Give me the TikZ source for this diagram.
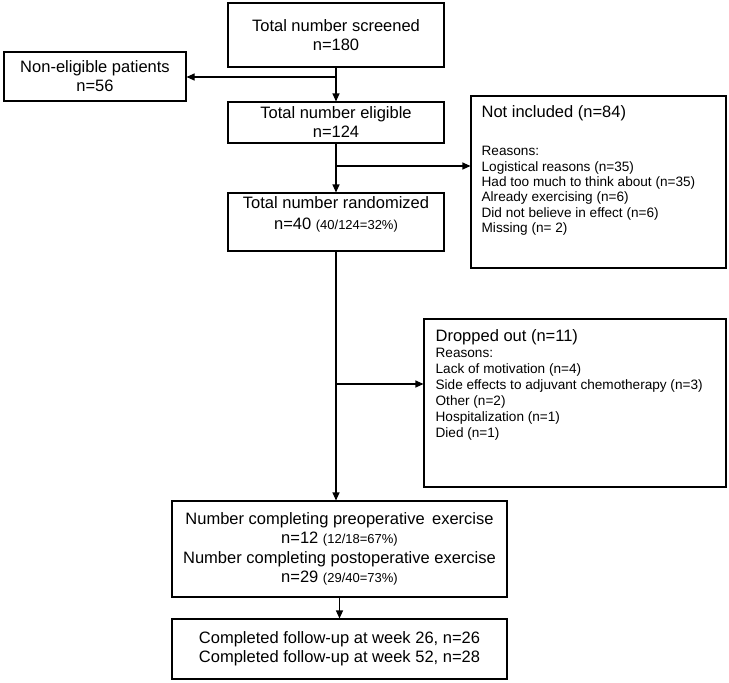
\documentclass[tikz,border=0pt]{standalone}
\usepackage{fontspec}
\setmainfont{Liberation Sans}
\usetikzlibrary{arrows.meta}

\newcommand{\mainsize}{\fontsize{16.5}{19}\selectfont}
\newcommand{\listsize}{\fontsize{13.6}{15.4}\selectfont}
\newcommand{\dropsize}{\fontsize{13.6}{16}\selectfont}
\newcommand{\pctsize}{\fontsize{13}{15}\selectfont}

\begin{document}
\begin{tikzpicture}[x=1pt, y=-1pt,
    box/.style={draw, line width=1.1pt, inner sep=0pt, align=center, font=\mainsize},
    txt/.style={inner sep=0pt},
    flow/.style={line width=1.1pt, -{Triangle[length=8pt, width=7pt]}}]
    \useasboundingbox (0,0) rectangle (729,683);

    % MAIN COLUMN
    \node[box, minimum width=216pt, minimum height=64pt] (screen) at (336,35) {Total number screened\\n=180};
    \node[box, minimum width=216pt, minimum height=41pt] (elig) at (336,122.5) {Total number eligible\\n=124};
    \node[box, minimum width=216pt, minimum height=58pt] (rand) at (336,222) {};
    \node[txt, anchor=north, align=center, font=\mainsize] (randtxt) at ([yshift=-4pt]rand.north)
        {Total number randomized\\[2pt]n=40 {\pctsize (40/124=32\%)}};
    \node[box, minimum width=335pt, minimum height=96pt] (compl) at (339.5,549)
        {Number completing preoperative \,exercise\\[0.5pt]n=12 {\pctsize (12/18=67\%)}\\[0.5pt]
         Number completing postoperative exercise\\[0.5pt]n=29 {\pctsize (29/40=73\%)}};
    \node[box, minimum width=335pt, minimum height=60pt] (follow) at (339.5,649)
        {Completed follow-up at week 26, n=26\\Completed follow-up at week 52, n=28};

    % SIDE BOXES
    \node[box, minimum width=182pt, minimum height=49pt] (nonelig) at (95,76.5) {Non-eligible patients\\n=56};

    \node[box, minimum width=255pt, minimum height=172pt] (notinc) at (598.5,182) {};
    \node[txt, anchor=north west, align=left, font=\listsize] (notinctxt) at ([xshift=11pt, yshift=-10pt]notinc.north west)
        {{\mainsize Not included (n=84)}\\[22.6pt]
         Reasons:\\
         Logistical reasons (n=35)\\
         Had too much to think about (n=35)\\
         Already exercising (n=6)\\
         Did not believe in effect (n=6)\\
         Missing (n= 2)};

    \node[box, minimum width=302pt, minimum height=168pt] (drop) at (575,403) {};
    \node[txt, anchor=north west, align=left, font=\dropsize] (droptxt) at ([xshift=12pt, yshift=-11pt]drop.north west)
        {{\mainsize Dropped out (n=11)}\\
         Reasons:\\
         Lack of motivation (n=4)\\
         Side effects to adjuvant chemotherapy (n=3)\\
         Other (n=2)\\
         Hospitalization (n=1)\\
         Died (n=1)};

    % CONNECTORS
    \draw[flow] (screen) -- (elig);
    \coordinate (split1) at (336,77);
    \draw[flow] (split1) -- (split1 -| nonelig.east);

    \draw[flow] (elig) -- (rand);
    \coordinate (split2) at (336,166);
    \draw[flow] (split2) -- (split2 -| notinc.west);

    \draw[flow] (rand) -- (rand |- compl.north);
    \coordinate (split3) at (336,384);
    \draw[flow] (split3) -- (split3 -| drop.west);

    \draw[flow] (compl) -- (follow);
\end{tikzpicture}
\end{document}
